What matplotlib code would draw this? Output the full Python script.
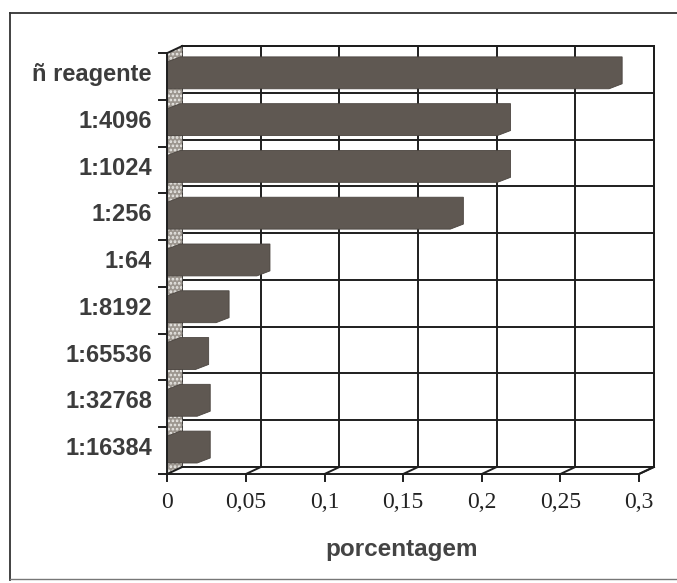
import matplotlib
matplotlib.use("Agg")
import matplotlib.pyplot as plt
from matplotlib.patches import Polygon
from matplotlib.lines import Line2D

categorias = ["1:16384", "1:32768", "1:65536", "1:8192", "1:64",
              "1:256", "1:1024", "1:4096", "ñ reagente"]
valores = [0.019, 0.019, 0.018, 0.031, 0.057, 0.18, 0.21, 0.21, 0.281]
ticks_x = [0, 0.05, 0.1, 0.15, 0.2, 0.25, 0.3]
rotulos_x = ["0", "0,05", "0,1", "0,15", "0,2", "0,25", "0,3"]

XMAX = 0.3
DX, DY = 0.0095, 0.15      # profundidade das paredes
BDX, BDY = 0.0083, 0.107   # profundidade das barras
cor_barra = "#5f5852"
cor_linha = "#1e1e1e"
lw = 1.4

fig = plt.figure(figsize=(6.77, 5.83), dpi=100)
ax = fig.add_axes([0, 0, 1, 1])
ax.set_xlim(-0.10641, 0.32418)
ax.set_ylim(-2.830, 9.633)
ax.axis("off")

n = len(categorias)
y0, y1 = -0.5, n - 0.5

# parede do fundo
ax.add_patch(Polygon([(DX, y0 + DY), (XMAX + DX, y0 + DY), (XMAX + DX, y1 + DY), (DX, y1 + DY)],
                     closed=True, fc="white", ec=cor_linha, lw=lw, zorder=1))
for t in ticks_x[1:]:
    ax.plot([t + DX, t + DX], [y0 + DY, y1 + DY], color=cor_linha, lw=lw, zorder=2)
for k in range(n + 1):
    ax.plot([DX, XMAX + DX], [k - 0.5 + DY, k - 0.5 + DY], color=cor_linha, lw=lw, zorder=2)

# parede lateral hachurada
plt.rcParams["hatch.linewidth"] = 1.3
ax.add_patch(Polygon([(0, y0), (0, y1), (DX, y1 + DY), (DX, y0 + DY)],
                     closed=True, fc="#9c968f", ec="#ecebe8", hatch="....", lw=0, zorder=2))
ax.plot([0, DX], [y1, y1 + DY], color=cor_linha, lw=lw, zorder=3)

# piso
ax.add_patch(Polygon([(0, y0), (XMAX, y0), (XMAX + DX, y0 + DY), (DX, y0 + DY)],
                     closed=True, fc="white", ec="none", zorder=2))
ax.plot([0, XMAX, XMAX + DX], [y0, y0, y0 + DY], color=cor_linha, lw=lw, zorder=3)
ax.plot([DX, XMAX + DX], [y0 + DY, y0 + DY], color=cor_linha, lw=lw, zorder=3)
for t in ticks_x:
    ax.plot([t, t + DX], [y0, y0 + DY], color=cor_linha, lw=lw, zorder=3)
    ax.plot([t, t], [y0, y0 - 0.15], color=cor_linha, lw=lw, zorder=3)

# barras
for c, v in enumerate(valores):
    yb, yt = c - 0.265, c + 0.31
    pts = [(0, yb), (v, yb), (v + BDX, yb + BDY), (v + BDX, yt + BDY), (BDX, yt + BDY), (0, yt)]
    ax.add_patch(Polygon(pts, closed=True, fc=cor_barra, ec="#4a443f", lw=0.6, zorder=4))

# eixo vertical e marcas
ax.plot([0, 0], [y0, y1], color=cor_linha, lw=lw, zorder=5)
for k in range(n + 1):
    ax.plot([-0.0055, 0], [k - 0.5, k - 0.5], color=cor_linha, lw=lw, zorder=5)

for c, nome in enumerate(categorias):
    ax.text(-0.0098, c + 0.04, nome, ha="right", va="center", fontsize=17,
            fontweight="bold", family="Liberation Sans", color="#3c3c3c")

for t, r in zip(ticks_x, rotulos_x):
    ax.text(t, -1.11, r, ha="center", va="center", fontsize=17,
            family="Liberation Serif", color="#222222")

ax.text(0.149, -2.11, "porcentagem", ha="center", va="center", fontsize=17.5,
        fontweight="bold", family="Liberation Sans", color="#444444")

# moldura
fig.add_artist(Line2D([10 / 677, 1], [1 - 13 / 583, 1 - 13 / 583], color="#333333", lw=1.3))
fig.add_artist(Line2D([10 / 677, 10 / 677], [1 - 13 / 583, 1 - 580 / 583], color="#333333", lw=1.3))
fig.add_artist(Line2D([10 / 677, 1], [1 - 579 / 583, 1 - 579 / 583], color="#777777", lw=1.0))

fig.savefig("out.png", dpi=100)
